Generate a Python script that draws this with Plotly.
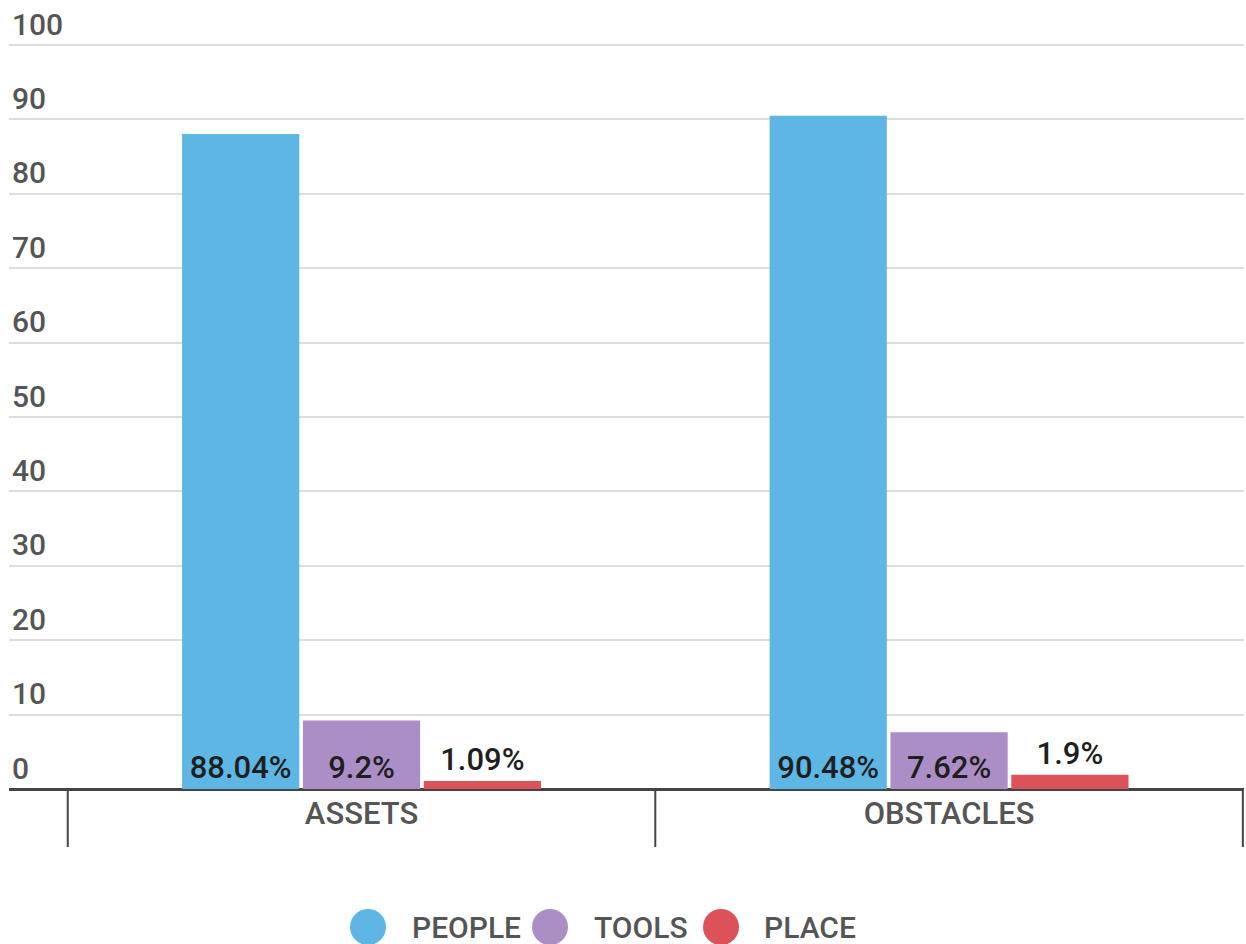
import plotly.graph_objects as go

categories = ["ASSETS", "OBSTACLES"]
series_names = ["PEOPLE", "TOOLS", "PLACE"]
people = [88.04, 90.48]
tools = [9.2, 7.62]
place = [1.09, 1.9]
people_labels = ["88.04%", "90.48%"]
tools_labels = ["9.2%", "7.62%"]
place_labels = ["1.09%", "1.9%"]
y_ticks = [0, 10, 20, 30, 40, 50, 60, 70, 80, 90, 100]

colors = ["#5DB6E4", "#AB8EC6", "#DB5358"]
values = [people, tools, place]
labels = [people_labels, tools_labels, place_labels]
positions = ["inside", "inside", "outside"]

W, H = 1246, 944
L, R, B = 9, 2, 155
px_per_unit = 744 / 100
T = 0
plot_w = W - L - R
plot_h = H - T - B
Y_TOP = plot_h / px_per_unit
FS = 31

fig = go.Figure()
for name, vals, txt, col, pos in zip(series_names, values, labels, colors, positions):
    fig.add_trace(go.Bar(
        name=name, x=categories, y=vals, text=txt, textposition=pos,
        insidetextanchor="start", textangle=0, constraintext="none",
        marker=dict(color=col, line=dict(width=0)),
        textfont=dict(family="Roboto", size=FS, color="#1f1f1f", weight=500),
        cliponaxis=False, showlegend=False,
    ))

shapes = []
# category dividers
for xv in [-0.5, 0.5, 1.5]:
    shapes.append(dict(type="line", xref="x", yref="paper", x0=xv, x1=xv,
                       y0=0, y1=-58 / plot_h, line=dict(color="#444444", width=2)))

# custom legend with large circles
legend_px = [(368, 410), (550, 592), (721, 762)]
legend_py = 927
annotations = []
for (cx, tx), name, col in zip(legend_px, series_names, colors):
    xp = (cx - L) / plot_w
    yp = (H - B - legend_py) / plot_h
    shapes.append(dict(type="circle", xref="paper", yref="paper",
                       xsizemode="pixel", ysizemode="pixel",
                       xanchor=xp, yanchor=yp, x0=-18, x1=18, y0=-18, y1=18,
                       fillcolor=col, line=dict(width=0)))
    annotations.append(dict(xref="paper", yref="paper", x=(tx - L) / plot_w, y=yp,
                            xanchor="left", yanchor="middle", showarrow=False,
                            text=name, font=dict(family="Roboto", size=30, color="#555555", weight=500)))

fig.update_layout(
    width=W, height=H,
    margin=dict(l=L, r=R, t=T, b=B),
    paper_bgcolor="white", plot_bgcolor="white",
    barmode="group", bargap=0.383, bargroupgap=0.03,
    font=dict(family="Roboto", color="#555555"),
    shapes=shapes, annotations=annotations,
    xaxis=dict(type="category", range=[-0.6, 1.502], showgrid=False, zeroline=False,
               showline=False, ticks="", tickfont=dict(family="Roboto", size=FS, color="#555555", weight=500),
               ticklabelstandoff=3),
    yaxis=dict(range=[0, Y_TOP], tickvals=y_ticks, showgrid=True, gridcolor="#DDDDDD",
               gridwidth=2, zeroline=True, zerolinecolor="#444444", zerolinewidth=3,
               showline=False, ticks="", ticklabelposition="inside top",
               tickfont=dict(family="Roboto", size=30, color="#555555", weight=500)),
)

fig.write_html("out.html")
